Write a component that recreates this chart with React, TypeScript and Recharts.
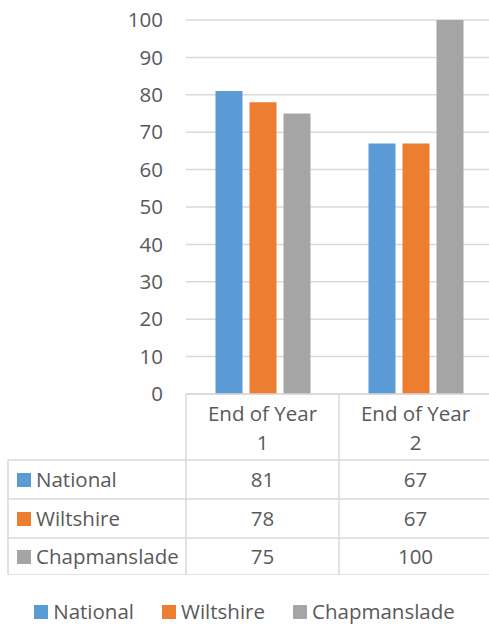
import { BarChart, Bar, XAxis, YAxis, CartesianGrid } from "recharts";

const categories = ["End of Year 1", "End of Year 2"];
const national = [81, 67];
const wiltshire = [78, 67];
const chapmanslade = [75, 100];
const yTicks = [0, 10, 20, 30, 40, 50, 60, 70, 80, 90, 100];

const series = [
  { name: "National", values: national, color: "#5B9BD5" },
  { name: "Wiltshire", values: wiltshire, color: "#ED7D31" },
  { name: "Chapmanslade", values: chapmanslade, color: "#A5A5A5" },
];

const data = categories.map((category, i) => {
  const row: Record<string, string | number> = { category };
  series.forEach((s) => {
    row[s.name] = s.values[i];
  });
  return row;
});

const FONT = "'Open Sans', sans-serif";
const TEXT = "#595959";
const LINE = "#d9d9d9";
const FS = 20.5;

// x-axis tick draws one column of the data table (and the label column for the first tick)
function TableColumn(props: any) {
  const { x, y, payload, index, visibleTicksCount } = props;
  const half = payload && payload.offset ? payload.offset : 76.5;
  const left = x - half;
  const right = x + half;
  const top = y;
  const rowLines = [0, 66, 105, 144, 181];
  const baselines = [93, 132, 170];
  const words = String(payload.value).split(" ");
  const last = words.pop();
  const first = words.join(" ");
  const isLast = index === (visibleTicksCount || categories.length) - 1;

  return (
    <g>
      {rowLines.map((d) => (
        <line key={"h" + d} x1={left} x2={right} y1={top + d} y2={top + d} stroke={LINE} strokeWidth={1.5} />
      ))}
      <line x1={left} x2={left} y1={top} y2={top + 181} stroke={LINE} strokeWidth={1.5} />
      {isLast && <line x1={right} x2={right} y1={top} y2={top + 181} stroke={LINE} strokeWidth={1.5} />}
      <text x={x} y={top + 27} textAnchor="middle" fill={TEXT} fontSize={FS} fontFamily={FONT}>
        {first}
      </text>
      <text x={x} y={top + 56} textAnchor="middle" fill={TEXT} fontSize={FS} fontFamily={FONT}>
        {last}
      </text>
      {series.map((s, r) => (
        <text key={s.name} x={x} y={top + baselines[r]} textAnchor="middle" fill={TEXT} fontSize={FS} fontFamily={FONT}>
          {s.values[payload.index ?? index]}
        </text>
      ))}
      {index === 0 && (
        <g>
          {rowLines.slice(1).map((d) => (
            <line key={"l" + d} x1={8} x2={left} y1={top + d} y2={top + d} stroke={LINE} strokeWidth={1.5} />
          ))}
          <line x1={8} x2={8} y1={top + 66} y2={top + 181} stroke={LINE} strokeWidth={1.5} />
          {series.map((s, r) => (
            <g key={s.name}>
              <rect x={17} y={top + baselines[r] - 14} width={14} height={14} fill={s.color} />
              <text x={36} y={top + baselines[r]} fill={TEXT} fontSize={FS} fontFamily={FONT}>
                {s.name}
              </text>
            </g>
          ))}
        </g>
      )}
    </g>
  );
}

export default function App() {
  return (
    <div
      style={{
        position: "absolute",
        left: 0,
        top: 0,
        width: 489,
        height: 624,
        overflow: "hidden",
        background: "#fff",
        fontFamily: FONT,
      }}
    >
      <BarChart
        width={492}
        height={575}
        data={data}
        margin={{ top: 20, right: 0, bottom: 0, left: 0 }}
        barCategoryGap={29.5}
        barGap={7}
      >
        <CartesianGrid vertical={false} stroke={LINE} strokeWidth={1.5} />
        <YAxis
          width={186}
          domain={[0, 100]}
          ticks={yTicks}
          axisLine={false}
          tickLine={false}
          tickSize={0}
          tickMargin={23}
          tick={{ fill: TEXT, fontSize: FS, fontFamily: FONT }}
          interval={0}
        />
        <XAxis
          dataKey="category"
          height={181}
          axisLine={false}
          tickLine={false}
          tickSize={0}
          tickMargin={0}
          interval={0}
          tick={<TableColumn />}
        />
        {series.map((s) => (
          <Bar key={s.name} dataKey={s.name} fill={s.color} isAnimationActive={false} />
        ))}
      </BarChart>
      <div
        style={{
          position: "absolute",
          top: 599,
          left: 0,
          width: 489,
          height: 25,
          display: "flex",
          justifyContent: "center",
          alignItems: "center",
          fontSize: FS,
          color: TEXT,
          lineHeight: "25px",
        }}
      >
        {series.map((s, i) => (
          <div key={s.name} style={{ display: "flex", alignItems: "center", marginRight: i < series.length - 1 ? 28 : 0 }}>
            <span style={{ display: "inline-block", width: 14, height: 14, background: s.color, marginRight: 5 }} />
            <span>{s.name}</span>
          </div>
        ))}
      </div>
    </div>
  );
}
